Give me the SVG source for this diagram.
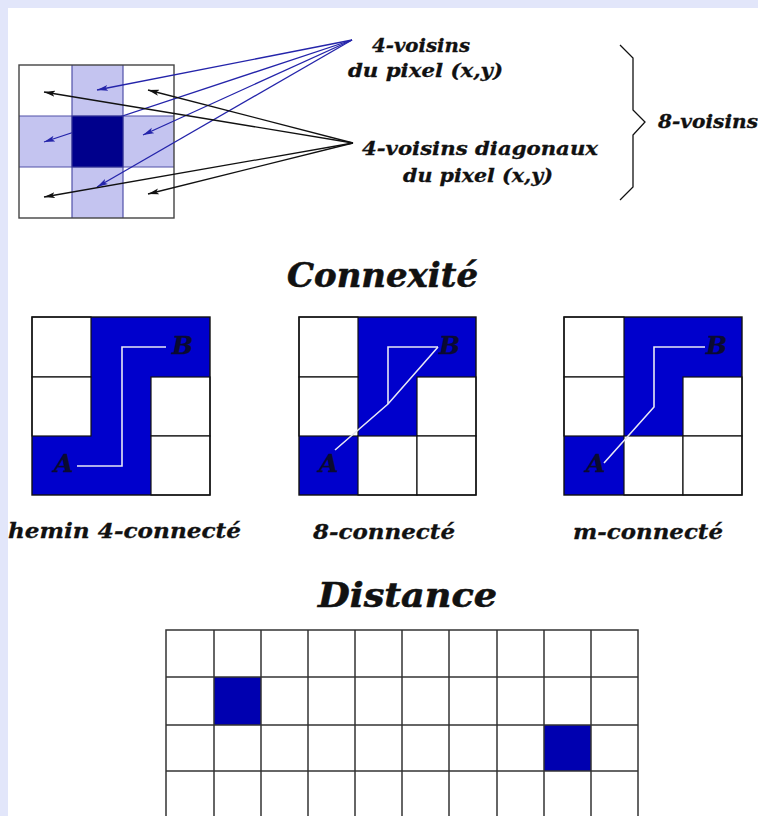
<svg xmlns="http://www.w3.org/2000/svg" width="758" height="816" viewBox="0 0 758 816">
<defs>
<style>
.t{font-family:"DejaVu Serif","Liberation Serif",serif;font-weight:bold;font-style:italic;fill:#111;stroke:#111;stroke-width:0.3}
.lab{font-size:18px}
.title{font-size:34px;stroke-width:0.6}
.cap{font-size:21px}
.ab{font-size:25px;fill:#0a0a30;stroke:#0a0a30}
.wc{fill:#fff;stroke:#111;stroke-width:1.2}
.outer{fill:none;stroke:#111;stroke-width:1.4}
.blue{fill:#0000cc}
.path{fill:none;stroke:#e8e8f4;stroke-width:1.6}
.ab-b{stroke:#2424aa;stroke-width:1.3;fill:none}
.ab-k{stroke:#111;stroke-width:1.3;fill:none}
.dg{stroke:#333;stroke-width:1.5;fill:none}
</style>
<marker id="mb" markerUnits="userSpaceOnUse" markerWidth="12" markerHeight="8" refX="11" refY="4" orient="auto">
<path d="M0,1 L11,4 L0,7 L2.5,4 Z" fill="#2424aa"/>
</marker>
<marker id="mk" markerUnits="userSpaceOnUse" markerWidth="12" markerHeight="8" refX="11" refY="4" orient="auto">
<path d="M0,1 L11,4 L0,7 L2.5,4 Z" fill="#111"/>
</marker>
</defs>
<rect x="0" y="0" width="758" height="816" fill="#e2e6fa"/>
<rect x="8" y="8" width="750" height="808" fill="#ffffff"/>

<g id="pixel-grid">
<rect x="19" y="65" width="155" height="153" fill="#fff"/>
<rect x="72" y="65" width="51" height="153" fill="#c4c4f0"/>
<rect x="19" y="116" width="155" height="51" fill="#c4c4f0"/>
<g stroke="#5050a8" stroke-width="1.2">
<line x1="72" y1="65" x2="72" y2="218"/>
<line x1="123" y1="65" x2="123" y2="218"/>
<line x1="19" y1="116" x2="174" y2="116"/>
<line x1="19" y1="167" x2="174" y2="167"/>
</g>
<rect x="19" y="65" width="155" height="153" fill="none" stroke="#444" stroke-width="1.4"/>
</g>

<g id="connectors">
<line class="ab-b" x1="352" y1="40" x2="97" y2="90" marker-end="url(#mb)"/>
<line class="ab-b" x1="352" y1="40" x2="44" y2="142" marker-end="url(#mb)"/>
<line class="ab-b" x1="352" y1="40" x2="143" y2="135" marker-end="url(#mb)"/>
<line class="ab-b" x1="352" y1="40" x2="97" y2="187" marker-end="url(#mb)"/>
<line class="ab-k" x1="353" y1="143" x2="44" y2="92" marker-end="url(#mk)"/>
<line class="ab-k" x1="353" y1="143" x2="148" y2="90" marker-end="url(#mk)"/>
<line class="ab-k" x1="353" y1="143" x2="44" y2="197" marker-end="url(#mk)"/>
<line class="ab-k" x1="353" y1="143" x2="148" y2="194" marker-end="url(#mk)"/>
</g>

<g id="center-pixel">
<rect x="72" y="116" width="51" height="51" fill="#00008c" stroke="#3a3a98" stroke-width="1"/>
</g>

<g id="labels-neighbours">
<text class="t lab" x="372" y="52" textLength="98" lengthAdjust="spacingAndGlyphs">4-voisins</text>
<text class="t lab" x="348" y="77" textLength="155" lengthAdjust="spacingAndGlyphs">du pixel (x,y)</text>
<text class="t lab" x="362" y="155" textLength="236" lengthAdjust="spacingAndGlyphs">4-voisins diagonaux</text>
<text class="t lab" x="403" y="182" textLength="150" lengthAdjust="spacingAndGlyphs">du pixel (x,y)</text>
<text class="t lab" x="658" y="128" textLength="100" lengthAdjust="spacingAndGlyphs">8-voisins</text>
</g>

<g id="brace">
<path d="M620,45 L633,58 L633,110 L645,122 L633,135 L633,187 L620,200" fill="none" stroke="#111" stroke-width="1.3"/>
</g>

<text id="title-connexite" class="t title" x="287" y="287" textLength="191" lengthAdjust="spacingAndGlyphs">Connexité</text>

<g id="grid-4">
<rect class="blue" x="32" y="317" width="178" height="178"/>
<rect class="wc" x="32" y="317" width="59" height="60"/>
<rect class="wc" x="32" y="377" width="59" height="59"/>
<rect class="wc" x="151" y="377" width="59" height="59"/>
<rect class="wc" x="151" y="436" width="59" height="59"/>
<rect class="outer" x="32" y="317" width="178" height="178"/>
<polyline class="path" points="77,466 122,466 122,347 166,347"/>
<text class="t ab" x="54" y="472">A</text>
<text class="t ab" x="172" y="354">B</text>
</g>

<g id="grid-8">
<rect class="blue" x="299" y="317" width="177" height="178"/>
<rect class="wc" x="299" y="317" width="59" height="60"/>
<rect class="wc" x="299" y="377" width="59" height="59"/>
<rect class="wc" x="417" y="377" width="59" height="59"/>
<rect class="wc" x="358" y="436" width="59" height="59"/>
<rect class="wc" x="417" y="436" width="59" height="59"/>
<rect class="outer" x="299" y="317" width="177" height="178"/>
<polyline class="path" points="335,450 388,404 438,347"/>
<polyline class="path" points="388,404 388,347 438,347"/>
<text class="t ab" x="319" y="472">A</text>
<text class="t ab" x="439" y="354">B</text>
</g>

<g id="grid-m">
<rect class="blue" x="564" y="317" width="178" height="178"/>
<rect class="wc" x="564" y="317" width="60" height="60"/>
<rect class="wc" x="564" y="377" width="60" height="59"/>
<rect class="wc" x="683" y="377" width="59" height="59"/>
<rect class="wc" x="624" y="436" width="59" height="59"/>
<rect class="wc" x="683" y="436" width="59" height="59"/>
<rect class="outer" x="564" y="317" width="178" height="178"/>
<polyline class="path" points="604,463 654,407 654,347 705,347"/>
<text class="t ab" x="586" y="472">A</text>
<text class="t ab" x="706" y="354">B</text>
</g>

<g id="captions">
<text class="t cap" x="8" y="538" textLength="233" lengthAdjust="spacingAndGlyphs">hemin 4-connecté</text>
<text class="t cap" x="313" y="539" textLength="142" lengthAdjust="spacingAndGlyphs">8-connecté</text>
<text class="t cap" x="573" y="539" textLength="150" lengthAdjust="spacingAndGlyphs">m-connecté</text>
</g>

<text id="title-distance" class="t title" x="318" y="607" textLength="179" lengthAdjust="spacingAndGlyphs">Distance</text>

<g id="distance-grid">
<rect x="166" y="630" width="472" height="200" fill="#fff"/>
<rect x="214" y="677" width="47" height="48" fill="#0000b0"/>
<rect x="544" y="725" width="47" height="46" fill="#0000b0"/>
<g class="dg">
<rect x="166" y="630" width="472" height="200"/>
<line x1="214" y1="630" x2="214" y2="816"/>
<line x1="261" y1="630" x2="261" y2="816"/>
<line x1="308" y1="630" x2="308" y2="816"/>
<line x1="355" y1="630" x2="355" y2="816"/>
<line x1="402" y1="630" x2="402" y2="816"/>
<line x1="449" y1="630" x2="449" y2="816"/>
<line x1="497" y1="630" x2="497" y2="816"/>
<line x1="544" y1="630" x2="544" y2="816"/>
<line x1="591" y1="630" x2="591" y2="816"/>
<line x1="166" y1="677" x2="638" y2="677"/>
<line x1="166" y1="725" x2="638" y2="725"/>
<line x1="166" y1="771" x2="638" y2="771"/>
</g>
</g>
</svg>
